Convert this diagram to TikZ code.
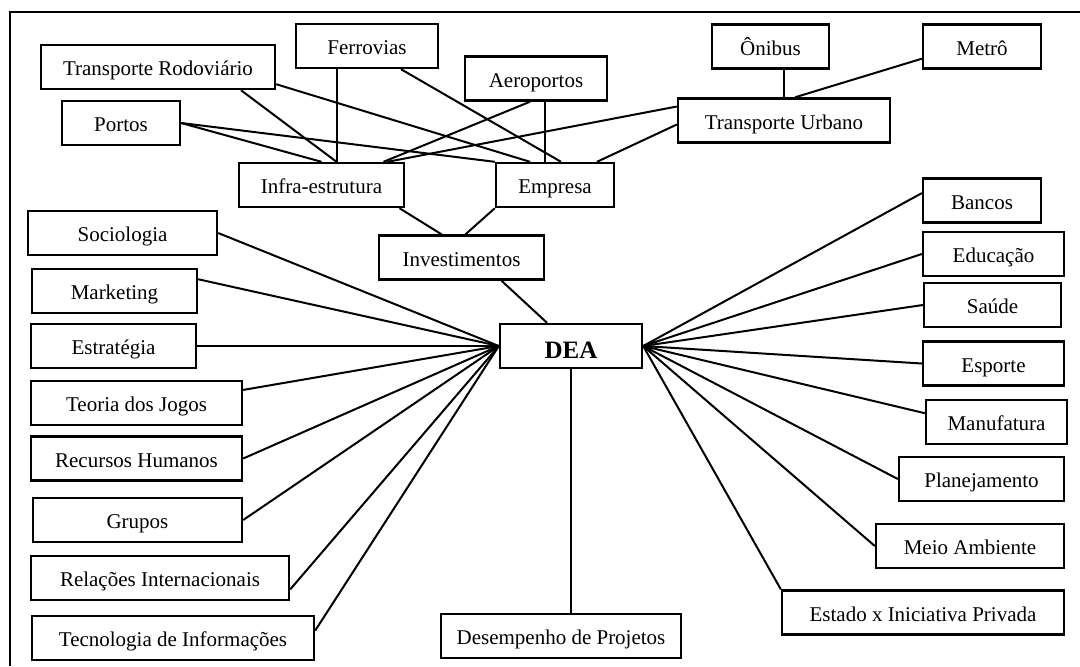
\documentclass[tikz,border=0pt]{standalone}
\usepackage{fontspec}
\setmainfont{Liberation Serif}
\usetikzlibrary{calc}

\tikzset{
  caixa/.style={draw, line width=1.2pt, inner sep=0pt,
    minimum width={#1*0.5pt}, minimum height=22pt,
    text height=8.5pt, text depth=0pt,
    font=\fontsize{10.5}{12}\selectfont},
  caixa/.default=140,
  central/.style={caixa=142, text height=12pt,
    font=\fontsize{12.5}{14}\selectfont\bfseries},
  liga/.style={line width=1pt}
}

\begin{document}
\begin{tikzpicture}[x=0.5pt,y=-0.5pt]
\useasboundingbox (0,0) rectangle (1080,666);
% moldura
\draw[line width=1pt] (10,666) -- (10,12) -- (1080,12);

% topo
\node[caixa=142] (ferro) at (367,46) {Ferrovias};
\node[caixa=234] (rodo) at (158,67) {Transporte Rodoviário};
\node[caixa=142] (aero) at (536,78.5) {Aeroportos};
\node[caixa=118] (portos) at (121,123) {Portos};
\node[caixa=117] (onibus) at (770.5,46.5) {Ônibus};
\node[caixa=118] (metro) at (982,46.5) {Metrô};
\node[caixa=212] (urbano) at (784,120.5) {Transporte Urbano};
\node[caixa=165] (infra) at (321.5,185) {Infra-estrutura};
\node[caixa=118] (empresa) at (555,185) {Empresa};
\node[caixa=165] (invest) at (461.5,257.5) {Investimentos};
\node[central] (dea) at (571,346) {DEA};

% esquerda
\node[caixa=189] (socio) at (122.5,233) {Sociologia};
\node[caixa=165] (mkt) at (114.5,291) {Marketing};
\node[caixa=165] (estrat) at (113.5,346) {Estratégia};
\node[caixa=211] (jogos) at (136.5,403) {Teoria dos Jogos};
\node[caixa=211] (rh) at (136.5,458.5) {Recursos Humanos};
\node[caixa=209] (grupos) at (137.5,520) {Grupos};
\node[caixa=258] (relint) at (160,578) {Relações Internacionais};
\node[caixa=282] (tecinf) at (173,638) {Tecnologia de Informações};

% baixo
\node[caixa=240] (desemp) at (561,636) {Desempenho de Projetos};

% direita
\node[caixa=118] (bancos) at (982,200.5) {Bancos};
\node[caixa=141] (educ) at (993.5,254) {Educação};
\node[caixa=137] (saude) at (992.5,305) {Saúde};
\node[caixa=141] (esporte) at (993.5,363.5) {Esporte};
\node[caixa=141] (manuf) at (996.5,422) {Manufatura};
\node[caixa=165] (planej) at (981.5,479) {Planejamento};
\node[caixa=188] (meio) at (970,546) {Meio Ambiente};
\node[caixa=282] (estado) at (923,612.5) {Estado x Iniciativa Privada};

% ligacoes do topo
\coordinate (fi) at ($(ferro.south)+(-30,0)$);
\coordinate (ae) at ($(aero.south)+(9,0)$);
\draw[liga] ($(rodo.south)+(83,0)$) -- ($(infra.north)+(15,0)$);
\draw[liga] ($(rodo.south east)+(0,-6)$) -- ($(empresa.north)+(-25,0)$);
\draw[liga] (fi) -- (fi |- infra.north);
\draw[liga] ($(ferro.south)+(34,0)$) -- ($(empresa.north)+(6,0)$);
\draw[liga] (portos.east) -- (infra.north);
\draw[liga] (portos.east) -- (empresa.north west);
\draw[liga] ($(aero.south)+(-6,0)$) -- ($(infra.north)+(62,0)$);
\draw[liga] (ae) -- (ae |- empresa.north);
\draw[liga] ($(urbano.west)+(0,-14)$) -- ($(infra.north)+(66,0)$);
\draw[liga] ($(urbano.west)+(0,4)$) -- ($(empresa.north)+(42,0)$);
\draw[liga] (urbano.north |- onibus.south) -- (urbano.north);
\draw[liga] ($(metro.south west)+(0,-11)$) -- ($(urbano.north)+(11,0)$);

\draw[liga] ($(infra.south)+(78,0)$) -- ($(invest.north)+(-20,0)$);
\draw[liga] (empresa.south west) -- ($(invest.north)+(4,0)$);
\draw[liga] ($(invest.south)+(40,0)$) -- ($(dea.north)+(-24,0)$);
\draw[liga] (dea.south) -- (dea.south |- desemp.north);

% ligacoes ao DEA
\foreach \n/\a in {socio/east, mkt/8, estrat/east, jogos/7, rh/east,
                   grupos/east, relint/-5, tecinf/3}
  \draw[liga] (\n.\a) -- (dea.west);
\foreach \n/\a in {bancos/173, educ/west, saude/west, esporte/west,
                   manuf/173, planej/west, meio/west, estado/north west}
  \draw[liga] (\n.\a) -- (dea.east);
\end{tikzpicture}
\end{document}
